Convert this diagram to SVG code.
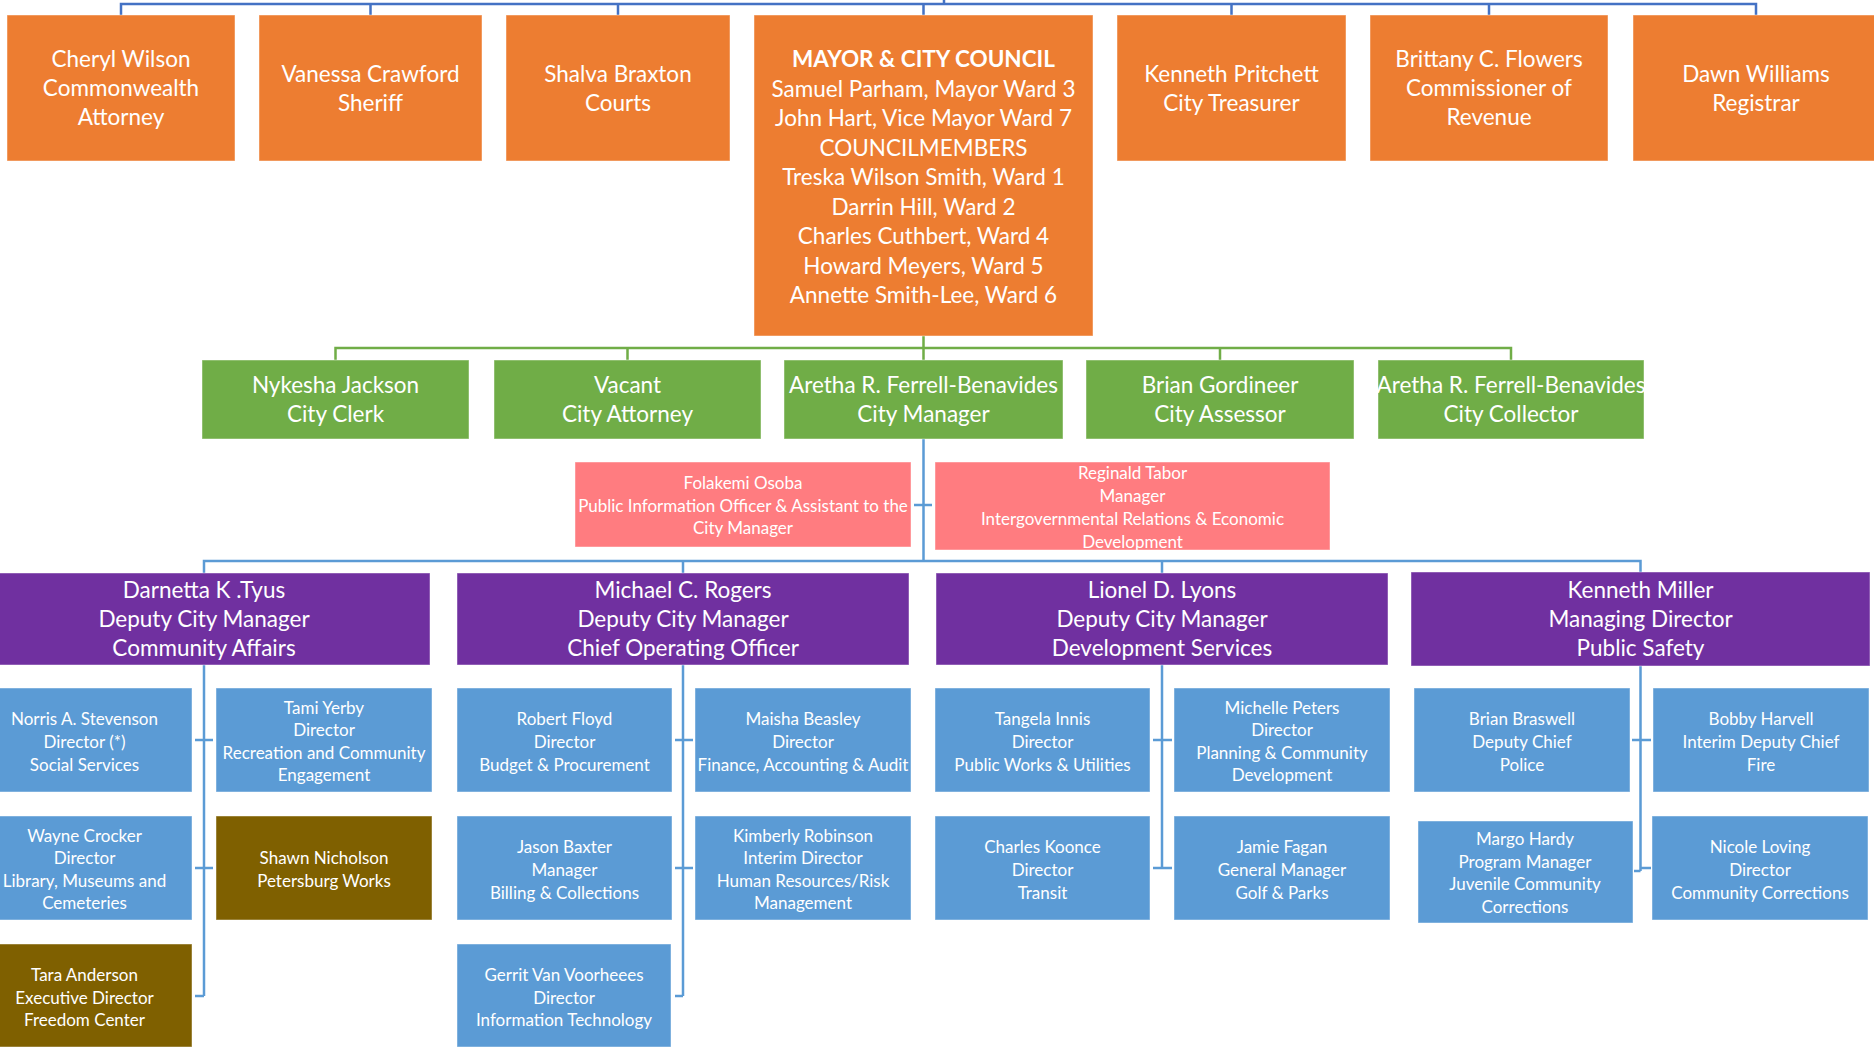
<svg xmlns="http://www.w3.org/2000/svg" width="1874" height="1053" viewBox="0 0 1874 1053">
<style>
text{font-family:Lato,"Liberation Sans",sans-serif;fill:#fff;text-anchor:middle}
.big text{font-size:22.5px}
.sm text{font-size:17px}
.o rect{fill:#ED7D31}
.g rect{fill:#70AD47}
.p rect{fill:#FF7C80}
.v rect{fill:#7030A0}
.b rect{fill:#5B9BD5}
.k rect{fill:#7F6000}
rect{stroke:#fff;stroke-opacity:.45;stroke-width:1}
.c1{stroke:#4472C4;stroke-width:2.5;fill:none}
.c2{stroke:#70AD47;stroke-width:2.5;fill:none}
.c3{stroke:#5B9BD5;stroke-width:2.5;fill:none}
</style>
<rect x="0" y="0" width="1874" height="1053" fill="#fff" stroke="none"/>
<g id="connectors">
<path class="c1" d="M944 0V4M121 15V4H1756V15M370.5 4V15M618 4V15M923.5 4V15M1231.5 4V15M1489 4V15"/>
<path class="c2" d="M923.5 336V348M335.5 360V348H1511V360M627.5 348V360M923.5 348V360M1220 348V360"/>
<path class="c3" d="M923.5 439V561M914 505H932M204 573V561H1640.5V572M683 561V573M1162 561V573"/>
<path class="c3" d="M204 665V996M195 740H213M195 868H213M195 996H204"/>
<path class="c3" d="M683 665V996M675 740H693M675 868H693M675 996H683"/>
<path class="c3" d="M1162 665V868M1153 740H1172M1153 868H1172"/>
<path class="c3" d="M1640.5 666V871M1632 740H1651M1640 868H1651M1634 871H1640.5"/>
</g>
<g class="o big">
<g id="cheryl"><rect x="7" y="15" width="228" height="146"/><text x="121" y="67">Cheryl Wilson</text><text x="121" y="96">Commonwealth</text><text x="121" y="125">Attorney</text></g>
<g id="vanessa"><rect x="259" y="15" width="223" height="146"/><text x="370.5" y="82">Vanessa Crawford</text><text x="370.5" y="111">Sheriff</text></g>
<g id="shalva"><rect x="506" y="15" width="224" height="146"/><text x="618" y="82">Shalva Braxton</text><text x="618" y="111">Courts</text></g>
<g id="mayor"><rect x="754" y="15" width="339" height="321"/>
<text x="923.5" y="67" font-weight="bold">MAYOR &amp; CITY COUNCIL</text>
<text x="923.5" y="96.5">Samuel Parham, Mayor Ward 3</text>
<text x="923.5" y="126">John Hart, Vice Mayor Ward 7</text>
<text x="923.5" y="155.5">COUNCILMEMBERS</text>
<text x="923.5" y="185">Treska Wilson Smith, Ward 1</text>
<text x="923.5" y="214.5">Darrin Hill, Ward 2</text>
<text x="923.5" y="244">Charles Cuthbert, Ward 4</text>
<text x="923.5" y="273.5">Howard Meyers, Ward 5</text>
<text x="923.5" y="303">Annette Smith-Lee, Ward 6</text></g>
<g id="pritchett"><rect x="1117" y="15" width="229" height="146"/><text x="1231.5" y="82">Kenneth Pritchett</text><text x="1231.5" y="111">City Treasurer</text></g>
<g id="flowers"><rect x="1370" y="15" width="238" height="146"/><text x="1489" y="67">Brittany C. Flowers</text><text x="1489" y="96">Commissioner of</text><text x="1489" y="125">Revenue</text></g>
<g id="williams"><rect x="1633" y="15" width="245" height="146"/><text x="1756" y="82">Dawn Williams</text><text x="1756" y="111">Registrar</text></g>
</g>
<g class="g big">
<g id="clerk"><rect x="202" y="360" width="267" height="79"/><text x="335.5" y="393">Nykesha Jackson</text><text x="335.5" y="422">City Clerk</text></g>
<g id="attorney"><rect x="494" y="360" width="267" height="79"/><text x="627.5" y="393">Vacant</text><text x="627.5" y="422">City Attorney</text></g>
<g id="manager"><rect x="784" y="360" width="279" height="79"/><text x="923.5" y="393">Aretha R. Ferrell-Benavides</text><text x="923.5" y="422">City Manager</text></g>
<g id="assessor"><rect x="1086" y="360" width="268" height="79"/><text x="1220" y="393">Brian Gordineer</text><text x="1220" y="422">City Assessor</text></g>
<g id="collector"><rect x="1378" y="360" width="266" height="79"/><text x="1511" y="393">Aretha R. Ferrell-Benavides</text><text x="1511" y="422">City Collector</text></g>
</g>
<g class="p sm">
<g id="osoba"><rect x="575" y="462" width="336" height="85"/><text x="743" y="489">Folakemi Osoba</text><text x="743" y="511.5">Public Information Officer &amp; Assistant to the</text><text x="743" y="534">City Manager</text></g>
<g id="tabor"><rect x="935" y="462" width="395" height="88"/><text x="1132.5" y="478.5">Reginald Tabor</text><text x="1132.5" y="501.5">Manager</text><text x="1132.5" y="524.5">Intergovernmental Relations &amp; Economic</text><text x="1132.5" y="547.5">Development</text></g>
</g>
<g class="v big">
<g id="tyus"><rect x="-22" y="573" width="452" height="92"/><text x="204" y="598">Darnetta K .Tyus</text><text x="204" y="627">Deputy City Manager</text><text x="204" y="656">Community Affairs</text></g>
<g id="rogers"><rect x="457" y="573" width="452" height="92"/><text x="683" y="598">Michael C. Rogers</text><text x="683" y="627">Deputy City Manager</text><text x="683" y="656">Chief Operating Officer</text></g>
<g id="lyons"><rect x="936" y="573" width="452" height="92"/><text x="1162" y="598">Lionel D. Lyons</text><text x="1162" y="627">Deputy City Manager</text><text x="1162" y="656">Development Services</text></g>
<g id="miller"><rect x="1411" y="572" width="459" height="94"/><text x="1640.5" y="598">Kenneth Miller</text><text x="1640.5" y="627">Managing Director</text><text x="1640.5" y="656">Public Safety</text></g>
</g>
<g class="b sm">
<g id="stevenson"><rect x="-23" y="688" width="215" height="104"/><text x="84.5" y="725">Norris A. Stevenson</text><text x="84.5" y="748">Director (*)</text><text x="84.5" y="770.5">Social Services</text></g>
<g id="yerby"><rect x="216" y="688" width="216" height="104"/><text x="324" y="713.5">Tami Yerby</text><text x="324" y="736">Director</text><text x="324" y="758.5">Recreation and Community</text><text x="324" y="781">Engagement</text></g>
<g id="floyd"><rect x="457" y="688" width="215" height="104"/><text x="564.5" y="725">Robert Floyd</text><text x="564.5" y="748">Director</text><text x="564.5" y="770.5">Budget &amp; Procurement</text></g>
<g id="beasley"><rect x="695" y="688" width="216" height="104"/><text x="803" y="725">Maisha Beasley</text><text x="803" y="748">Director</text><text x="803" y="770.5">Finance, Accounting &amp; Audit</text></g>
<g id="innis"><rect x="935" y="688" width="215" height="104"/><text x="1042.5" y="725">Tangela Innis</text><text x="1042.5" y="748">Director</text><text x="1042.5" y="770.5">Public Works &amp; Utilities</text></g>
<g id="peters"><rect x="1174" y="688" width="216" height="104"/><text x="1282" y="713.5">Michelle Peters</text><text x="1282" y="736">Director</text><text x="1282" y="758.5">Planning &amp; Community</text><text x="1282" y="781">Development</text></g>
<g id="braswell"><rect x="1414" y="688" width="216" height="104"/><text x="1522" y="725">Brian Braswell</text><text x="1522" y="748">Deputy Chief</text><text x="1522" y="770.5">Police</text></g>
<g id="harvell"><rect x="1653" y="688" width="216" height="104"/><text x="1761" y="725">Bobby Harvell</text><text x="1761" y="748">Interim Deputy Chief</text><text x="1761" y="770.5">Fire</text></g>
<g id="crocker"><rect x="-23" y="816" width="215" height="104"/><text x="84.5" y="841.5">Wayne Crocker</text><text x="84.5" y="864">Director</text><text x="84.5" y="886.5">Library, Museums and</text><text x="84.5" y="909">Cemeteries</text></g>
<g id="baxter"><rect x="457" y="816" width="215" height="104"/><text x="564.5" y="853">Jason Baxter</text><text x="564.5" y="876">Manager</text><text x="564.5" y="898.5">Billing &amp; Collections</text></g>
<g id="robinson"><rect x="695" y="816" width="216" height="104"/><text x="803" y="841.5">Kimberly Robinson</text><text x="803" y="864">Interim Director</text><text x="803" y="886.5">Human Resources/Risk</text><text x="803" y="909">Management</text></g>
<g id="koonce"><rect x="935" y="816" width="215" height="104"/><text x="1042.5" y="853">Charles Koonce</text><text x="1042.5" y="876">Director</text><text x="1042.5" y="898.5">Transit</text></g>
<g id="fagan"><rect x="1174" y="816" width="216" height="104"/><text x="1282" y="853">Jamie Fagan</text><text x="1282" y="876">General Manager</text><text x="1282" y="898.5">Golf &amp; Parks</text></g>
<g id="hardy"><rect x="1418" y="821" width="215" height="102"/><text x="1525" y="845">Margo Hardy</text><text x="1525" y="867.5">Program Manager</text><text x="1525" y="890">Juvenile Community</text><text x="1525" y="912.5">Corrections</text></g>
<g id="loving"><rect x="1652" y="816" width="216" height="104"/><text x="1760" y="853">Nicole Loving</text><text x="1760" y="876">Director</text><text x="1760" y="898.5">Community Corrections</text></g>
<g id="voorhees"><rect x="457" y="944" width="214" height="103"/><text x="564" y="980.5">Gerrit Van Voorheees</text><text x="564" y="1003.5">Director</text><text x="564" y="1026">Information Technology</text></g>
</g>
<g class="k sm">
<g id="nicholson"><rect x="216" y="816" width="216" height="104"/><text x="324" y="863.5">Shawn Nicholson</text><text x="324" y="886.5">Petersburg Works</text></g>
<g id="anderson"><rect x="-23" y="944" width="215" height="103"/><text x="84.5" y="980.5">Tara Anderson</text><text x="84.5" y="1003.5">Executive Director</text><text x="84.5" y="1026">Freedom Center</text></g>
</g>
</svg>
